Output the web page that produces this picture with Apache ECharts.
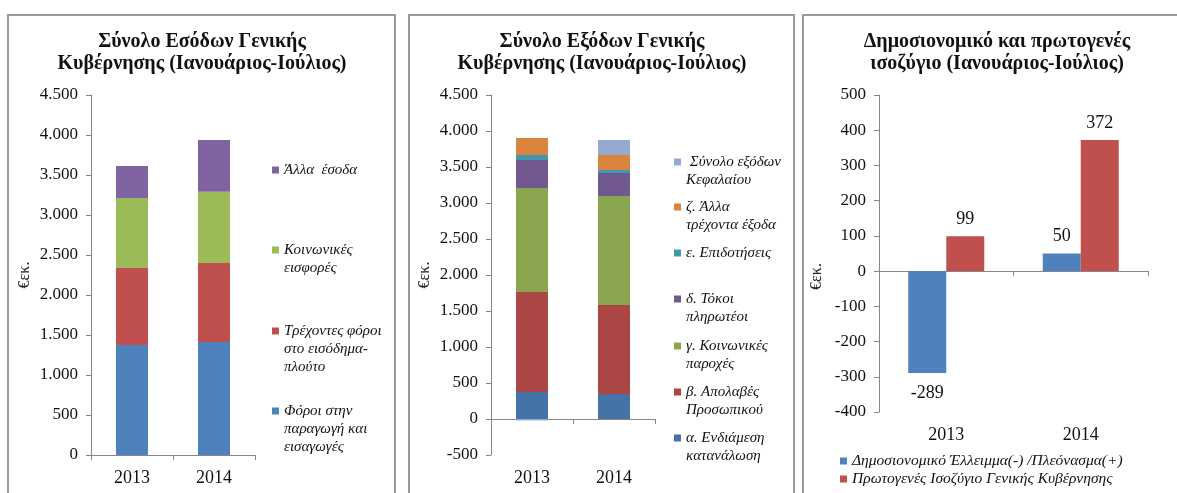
<!DOCTYPE html>
<html>
<head>
<meta charset="utf-8">
<script src="https://cdn.jsdelivr.net/npm/echarts@6/dist/echarts.min.js"></script>
<style>
html,body{margin:0;padding:0;background:#fff;}
#chart{width:1177px;height:493px;}
</style>
</head>
<body>
<div id="chart"></div>
<script>
// ---- Data ----
var categories = ['2013', '2014'];

// Panel 1: revenues
var revNames = ['Φόροι στην\nπαραγωγή και\nεισαγωγές', 'Τρέχοντες φόροι\nστο εισόδημα-\nπλούτο', 'Κοινωνικές\nεισφορές', 'Άλλα  έσοδα'];
var revProduction = [1375, 1412];
var revIncome = [962, 988];
var revSocial = [875, 890];
var revOther = [400, 647];
var revTicks = [0, 4500, 500];

// Panel 2: expenditures
var expNames = ['α. Ενδιάμεση\nκατανάλωση', 'β. Απολαβές\nΠροσωπικού', 'γ. Κοινωνικές\nπαροχές', 'δ. Τόκοι\nπληρωτέοι', 'ε. Επιδοτήσεις', 'ζ. Άλλα\nτρέχοντα έξοδα', ' Σύνολο εξόδων\nΚεφαλαίου'];
var expIntermediate = [375, 347];
var expCompensation = [1389, 1236];
var expSocial = [1444, 1514];
var expInterest = [389, 320];
var expSubsidies = [70, 41];
var expOther = [236, 209];
var expCapital = [-20, 208];
var expTicks = [-500, 4500, 500];

// Panel 3: balances
var balNames = ['Δημοσιονομικό Έλλειμμα(-) /Πλεόνασμα(+)', 'Πρωτογενές Ισοζύγιο Γενικής Κυβέρνησης'];
var balFiscal = [-289, 50];
var balPrimary = [99, 372];
var balTicks = [-400, 500, 100];

var titles = ['Σύνολο Εσόδων Γενικής\nΚυβέρνησης (Ιανουάριος-Ιούλιος)',
              'Σύνολο Εξόδων Γενικής\nΚυβέρνησης (Ιανουάριος-Ιούλιος)',
              'Δημοσιονομικό και πρωτογενές\nισοζύγιο (Ιανουάριος-Ιούλιος)'];
var unitName = '€εκ.';

// ---- Styling ----
var SERIF = '"Liberation Serif", "DejaVu Serif", serif';
var AXIS_COLOR = '#868686';
var revColors = ['#4F81BD', '#C0504D', '#9BBB59', '#8064A2'];
var expColors = ['#4572A7', '#AA4643', '#89A54E', '#71588F', '#4198AF', '#DB843D', '#93A9CF'];
var balColors = ['#4F81BD', '#C0504D'];

function fmt(v) {
  var s = String(Math.abs(v)).replace(/\B(?=(\d{3})+(?!\d))/g, '.');
  return (v < 0 ? '-' : '') + s;
}

var LH = 18;
// Legend whose square sits beside the first text line: the icon path spans the
// whole item height but only draws a small square at the first line.
function makeLegend(name, x, yIcon, fontSize) {
  var n = name.split('\n').length;
  var H = n * LH;
  var s0 = LH / 2 - 3.5, s1 = LH / 2 + 3.5;
  var path = 'path://M0,0L0,0M0,' + s0 + 'L7,' + s0 + 'L7,' + s1 + 'L0,' + s1 + 'ZM7,' + H + 'L7,' + H;
  return {
    left: x, top: yIcon - LH / 2, padding: 0,
    orient: 'vertical', itemWidth: 7, itemHeight: H,
    data: [{ name: name, icon: path }],
    textStyle: { fontFamily: SERIF, fontStyle: 'italic', fontSize: fontSize || 15, color: '#111', lineHeight: LH }
  };
}

function valueAxis(grid, ticks, gap, namePad) {
  return {
    type: 'value', gridIndex: grid, min: ticks[0], max: ticks[1], interval: ticks[2],
    name: unitName, nameLocation: 'middle', nameRotate: 90, nameGap: gap,
    nameTextStyle: { fontFamily: SERIF, fontSize: 16, color: '#222', padding: namePad || 0 },
    axisLine: { show: true, lineStyle: { color: AXIS_COLOR, width: 1 } },
    axisTick: { show: true, length: 5, lineStyle: { color: AXIS_COLOR } },
    splitLine: { show: false },
    axisLabel: { formatter: fmt, fontFamily: SERIF, fontSize: 17, color: '#111', margin: 13 }
  };
}

function catAxis(grid, opts) {
  var a = {
    type: 'category', gridIndex: grid, data: categories,
    axisLine: { show: true, onZero: true, lineStyle: { color: AXIS_COLOR, width: 1 } },
    axisTick: { show: true, length: 5, lineStyle: { color: AXIS_COLOR } },
    axisLabel: { fontFamily: SERIF, fontSize: 18, color: '#111', margin: 14 }
  };
  for (var k in opts) a[k] = opts[k];
  return a;
}

var series = [];
var revData = [revProduction, revIncome, revSocial, revOther];
revData.forEach(function (d, i) {
  series.push({ name: revNames[i], type: 'bar', stack: 'rev', xAxisIndex: 0, yAxisIndex: 0,
    data: d, barWidth: 32, itemStyle: { color: revColors[i] } });
});
var expData = [expIntermediate, expCompensation, expSocial, expInterest, expSubsidies, expOther, expCapital];
expData.forEach(function (d, i) {
  series.push({ name: expNames[i], type: 'bar', stack: 'exp', xAxisIndex: 1, yAxisIndex: 1,
    data: d, barWidth: 32, itemStyle: { color: expColors[i] } });
});
[balFiscal, balPrimary].forEach(function (d, i) {
  series.push({ name: balNames[i], type: 'bar', xAxisIndex: 2, yAxisIndex: 2,
    barWidth: 38, barGap: '0%',
    itemStyle: { color: balColors[i] },
    data: d.map(function (v) {
      return { value: v, label: v < 0 ? { position: 'bottom', distance: 11 } : { position: 'top', distance: 8 } };
    }),
    label: { show: true, fontFamily: SERIF, fontSize: 18, color: '#111' }
  });
});

var legends = [];
// panel 1
legends.push(makeLegend(revNames[3], 272, 170));
legends.push(makeLegend(revNames[2], 272, 250));
legends.push(makeLegend(revNames[1], 272, 331));
legends.push(makeLegend(revNames[0], 272, 411));
// panel 2
var expLegendY = [438, 392, 346, 299, 253, 207, 162];
expNames.forEach(function (n, i) { legends.push(makeLegend(n, 674, expLegendY[i])); });
// panel 3
legends.push(makeLegend(balNames[0], 840, 461, 15.5));
legends.push(makeLegend(balNames[1], 840, 479, 15.5));

var titleCenters = [202, 602, 997];
var titleOpts = titles.map(function (t, i) {
  return { text: t, left: titleCenters[i], top: 31, textAlign: 'center', padding: 0,
    textStyle: { fontFamily: SERIF, fontWeight: 'bold', fontSize: 20, lineHeight: 22, color: '#111' } };
});

var option = {
  backgroundColor: '#ffffff',
  animation: false,
  title: titleOpts,
  legend: legends,
  grid: [
    { left: 91, top: 95, width: 164, height: 360, outerBoundsMode: 'none' },
    { left: 491, top: 95, width: 164, height: 360, outerBoundsMode: 'none' },
    { left: 879, top: 95, width: 269, height: 317, outerBoundsMode: 'none' }
  ],
  xAxis: [
    catAxis(0, {}),
    catAxis(1, {}),
    catAxis(2, { axisLabel: { show: false } }),
    catAxis(2, { position: 'bottom', axisLine: { show: false, onZero: false }, axisTick: { show: false },
      axisLabel: { fontFamily: SERIF, fontSize: 18, color: '#111', margin: 14 } })
  ],
  yAxis: [
    valueAxis(0, revTicks, 58),
    valueAxis(1, expTicks, 58),
    valueAxis(2, balTicks, 54, [0, 46, 0, 0])
  ],
  graphic: [
    { type: 'rect', shape: { x: 8, y: 15, width: 387, height: 500 }, style: { fill: 'none', stroke: '#9a9a9a', lineWidth: 2 }, silent: true },
    { type: 'rect', shape: { x: 409, y: 15, width: 385, height: 500 }, style: { fill: 'none', stroke: '#9a9a9a', lineWidth: 2 }, silent: true },
    { type: 'rect', shape: { x: 803, y: 15, width: 400, height: 500 }, style: { fill: 'none', stroke: '#9a9a9a', lineWidth: 2 }, silent: true }
  ],
  series: series
};

var chart = echarts.init(document.getElementById('chart'), null, { renderer: 'canvas' });
chart.setOption(option);
</script>
</body>
</html>
